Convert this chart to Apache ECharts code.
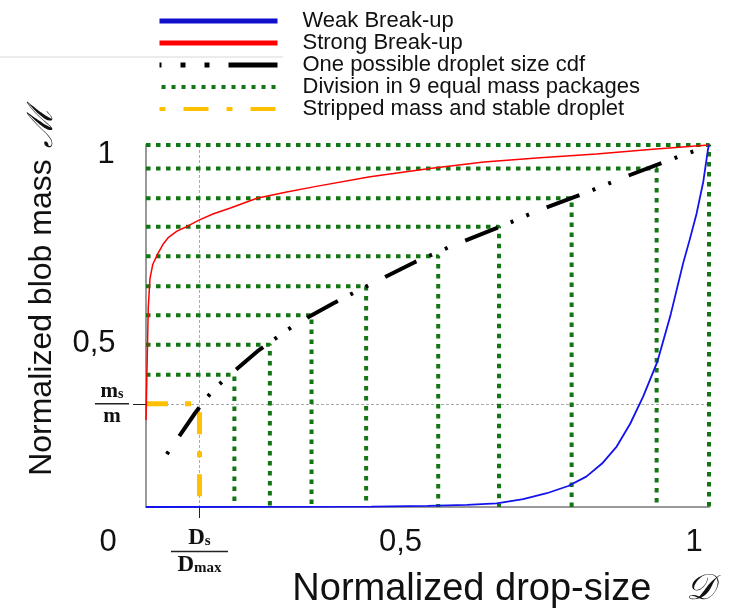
<!DOCTYPE html>
<html>
<head>
<meta charset="utf-8">
<script src="https://cdn.jsdelivr.net/npm/echarts@6/dist/echarts.min.js"></script>
<style>
html,body{margin:0;padding:0;background:#fff;}
#chart{width:743px;height:612px;}
</style>
</head>
<body>
<div id="chart"></div>
<script>
// ---- data ----
const weakD = [0, 0.4, 0.5, 0.57, 0.623, 0.67, 0.712, 0.75, 0.782, 0.81, 0.836, 0.86, 0.883, 0.908, 0.931, 0.954, 0.966, 0.978, 0.99, 0.998, 1.0];
const weakM = [0, 0.001, 0.003, 0.006, 0.010, 0.022, 0.038, 0.058, 0.084, 0.12, 0.167, 0.23, 0.305, 0.400, 0.526, 0.673, 0.74, 0.811, 0.90, 0.986, 1.0];

const strongD = [0, 0.002, 0.004, 0.007, 0.012, 0.021, 0.03, 0.04, 0.055, 0.073, 0.095, 0.12, 0.15, 0.197, 0.25, 0.3, 0.398, 0.504, 0.6, 0.7, 0.8, 0.9, 1.0];
const strongM = [0.24, 0.40, 0.55, 0.63, 0.67, 0.70, 0.725, 0.745, 0.762, 0.775, 0.793, 0.81, 0.826, 0.853, 0.87, 0.885, 0.912, 0.935, 0.953, 0.965, 0.975, 0.988, 1.0];

const cdfD = [0.037, 0.087, 0.105, 0.125, 0.149, 0.197, 0.249, 0.274, 0.333, 0.392, 0.478, 0.540, 0.632, 0.695, 0.789, 0.851, 0.946, 0.975];
const cdfM = [0.146, 0.259, 0.297, 0.332, 0.365, 0.429, 0.487, 0.512, 0.563, 0.610, 0.677, 0.719, 0.776, 0.818, 0.873, 0.912, 0.968, 0.984];

const pkgD = [0.157, 0.220, 0.294, 0.391, 0.519, 0.627, 0.756, 0.907, 1.0];
const pkgM = [0.365, 0.448, 0.530, 0.610, 0.693, 0.774, 0.853, 0.935, 1.0];

const stripD = [0.095];
const stripM = [0.285];

const seriesNames = ['Weak Break-up', 'Strong Break-up', 'One possible droplet size cdf',
  'Division in 9 equal mass packages', 'Stripped mass and stable droplet'];

const xLabelValues = [stripD[0], 0.5, 1];
const yLabelValues = [0, stripM[0], 0.5, 1];
const xTickTexts = ['', '0,5', '1'];
const yTickTexts = ['0', '', '0,5', '1'];
const xAxisTitle = 'Normalized drop-size';
const xAxisSymbol = '\u{1D49F}';
const yAxisTitle = 'Normalized blob mass';
const yAxisSymbol = '\u2133';

// ---- build ----
const chart = echarts.init(document.getElementById('chart'), null, {renderer: 'canvas'});
const zip = (a, b) => a.map((v, i) => [v, b[i]]);

const GREEN = '#137513';
const YELLOW = '#FFC000';

const series = [];
pkgD.forEach((d, i) => {
  series.push({
    name: seriesNames[3], type: 'line', symbol: 'none', showSymbol: false, clip: false, z: 2,
    data: [[0, pkgM[i]], [d, pkgM[i]], [d, 0]],
    lineStyle: {color: GREEN, width: 4, type: [4.5, 5.5]},
    itemStyle: {color: GREEN}
  });
});
series.push({
  name: seriesNames[4], type: 'line', symbol: 'none', showSymbol: false, clip: false, z: 3,
  data: [[0, stripM[0]], [stripD[0], stripM[0]], [stripD[0], 0]],
  lineStyle: {color: YELLOW, width: 5, type: [22, 17, 6, 17]},
  itemStyle: {color: YELLOW}
});
series.push({
  name: seriesNames[2], type: 'line', symbol: 'none', showSymbol: false, clip: false, z: 4,
  data: zip(cdfD, cdfM),
  lineStyle: {color: '#000', width: 4, type: [35, 14, 3, 14, 3, 19], dashOffset: 66},
  itemStyle: {color: '#000'}
});
series.push({
  name: seriesNames[1], type: 'line', symbol: 'none', showSymbol: false, clip: false, z: 5,
  data: zip(strongD, strongM),
  lineStyle: {color: '#ff0000', width: 1.5},
  itemStyle: {color: '#ff0000'}
});
series.push({
  name: seriesNames[0], type: 'line', symbol: 'none', showSymbol: false, clip: false, z: 5,
  data: zip(weakD, weakM),
  lineStyle: {color: '#1212ee', width: 1.8},
  itemStyle: {color: '#1212ee'}
});

const serifB = {fontFamily: 'Liberation Serif', fontWeight: 'bold', color: '#111'};
const tickNum = {fontFamily: 'Liberation Sans', fontSize: 31, color: '#111', lineHeight: 30};
const hiddenSymbol = {color: 'rgba(0,0,0,0)', borderColor: 'rgba(0,0,0,0)', borderWidth: 0, opacity: 0};

const option = {
  animation: false,
  backgroundColor: '#fff',
  grid: {left: 146, right: 34, top: 145, bottom: 105, containLabel: false, outerBoundsMode: 'none'},
  legend: {
    orient: 'vertical', left: 152, top: 5,
    itemWidth: 118, itemHeight: 14, itemGap: 0,
    selectedMode: false,
    itemStyle: hiddenSymbol,
    textStyle: {fontFamily: 'Liberation Sans', fontSize: 22, color: '#111', lineHeight: 20, padding: [0, 0, 0, 20]},
    data: [
      {name: seriesNames[0], itemStyle: hiddenSymbol, lineStyle: {width: 5, color: '#1010cc'}},
      {name: seriesNames[1], itemStyle: hiddenSymbol, lineStyle: {width: 5}},
      {name: seriesNames[2], itemStyle: hiddenSymbol, lineStyle: {width: 5, type: [50, 19, 5, 19, 5, 19], dashOffset: 48}},
      {name: seriesNames[3], itemStyle: hiddenSymbol, lineStyle: {width: 4, type: [4, 6]}},
      {name: seriesNames[4], itemStyle: hiddenSymbol, lineStyle: {width: 4, type: [25, 18, 6, 18], dashOffset: 43}}
    ]
  },
  xAxis: {
    type: 'value', min: 0, max: 1, interval: 0.2,
    name: '{a|' + xAxisTitle + '}{b|   ' + xAxisSymbol + '}',
    nameLocation: 'middle', nameGap: 64, nameMoveOverlap: false,
    nameTextStyle: {
      padding: [0, 0, 0, 152],
      rich: {
        a: {fontFamily: 'Liberation Sans', fontSize: 38, color: '#111'},
        b: {fontFamily: 'DejaVu Serif', fontSize: 36, fontStyle: 'italic', color: '#111'}
      }
    },
    axisLine: {show: true, onZero: false, lineStyle: {color: '#999', width: 2}},
    splitLine: {show: true, lineStyle: {color: '#aaa', width: 1, type: [3, 2]}},
    axisTick: {show: true, customValues: stripD, length: 11, lineStyle: {color: '#222', width: 1}},
    axisLabel: {
      show: true, customValues: xLabelValues, margin: 20, hideOverlap: false,
      formatter: function (v) {
        const i = xLabelValues.findIndex(x => Math.abs(x - v) < 1e-9);
        if (i === 0) return '{N|D}{S|s}\n{bar|}\n{N|D}{S|max}';
        return '{x' + i + '|' + xTickTexts[i] + '}';
      },
      rich: {
        x1: Object.assign({}, tickNum, {padding: [0, 54, 0, 0]}),
        x2: Object.assign({}, tickNum, {padding: [0, 30, 0, 0]}),
        N: Object.assign({}, serifB, {fontSize: 23, lineHeight: 22}),
        S: Object.assign({}, serifB, {fontSize: 15, lineHeight: 22, verticalAlign: 'bottom'}),
        bar: {width: 57, height: 1.5, lineHeight: 5, backgroundColor: '#222'}
      }
    }
  },
  yAxis: {
    type: 'value', min: 0, max: 1, interval: 0.2,
    name: '{a|' + yAxisTitle + '}{b| ' + yAxisSymbol + '}',
    nameLocation: 'middle', nameGap: 86, nameRotate: 90, nameMoveOverlap: false,
    nameTextStyle: {
      padding: [0, 0, 0, 68],
      rich: {
        a: {fontFamily: 'Liberation Sans', fontSize: 32, color: '#111'},
        b: {fontFamily: 'DejaVu Serif', fontSize: 35, fontStyle: 'italic', color: '#111'}
      }
    },
    axisLine: {show: true, onZero: false, lineStyle: {color: '#999', width: 2}},
    splitLine: {show: true, lineStyle: {color: '#aaa', width: 1, type: [3, 2]}},
    axisTick: {show: true, customValues: stripM, length: 13, lineStyle: {color: '#222', width: 1}},
    axisLabel: {
      show: true, customValues: yLabelValues, margin: 34, align: 'center', hideOverlap: false,
      showMinLabel: true,
      formatter: function (v) {
        const i = yLabelValues.findIndex(x => Math.abs(x - v) < 1e-9);
        if (i === 1) return '{m|m}{ms|s}\n{ybar|}\n{m|m}';
        return '{y' + i + '|' + yTickTexts[i] + '}';
      },
      rich: {
        y0: Object.assign({}, tickNum, {padding: [70, 8, 0, 0]}),
        y2: Object.assign({}, tickNum, {padding: [34, 36, 0, 0]}),
        y3: Object.assign({}, tickNum, {padding: [18, 12, 0, 0]}),
        m: Object.assign({}, serifB, {fontSize: 21, lineHeight: 20}),
        ms: Object.assign({}, serifB, {fontSize: 14, lineHeight: 20, verticalAlign: 'bottom'}),
        ybar: {width: 34, height: 1.5, lineHeight: 5, backgroundColor: '#222'}
      }
    }
  },
  graphic: [
    {type: 'line', shape: {x1: 0, y1: 57, x2: 283, y2: 57}, style: {stroke: '#d8d8d8', lineWidth: 1}, silent: true}
  ],
  series: series
};
chart.setOption(option);
</script>
</body>
</html>
